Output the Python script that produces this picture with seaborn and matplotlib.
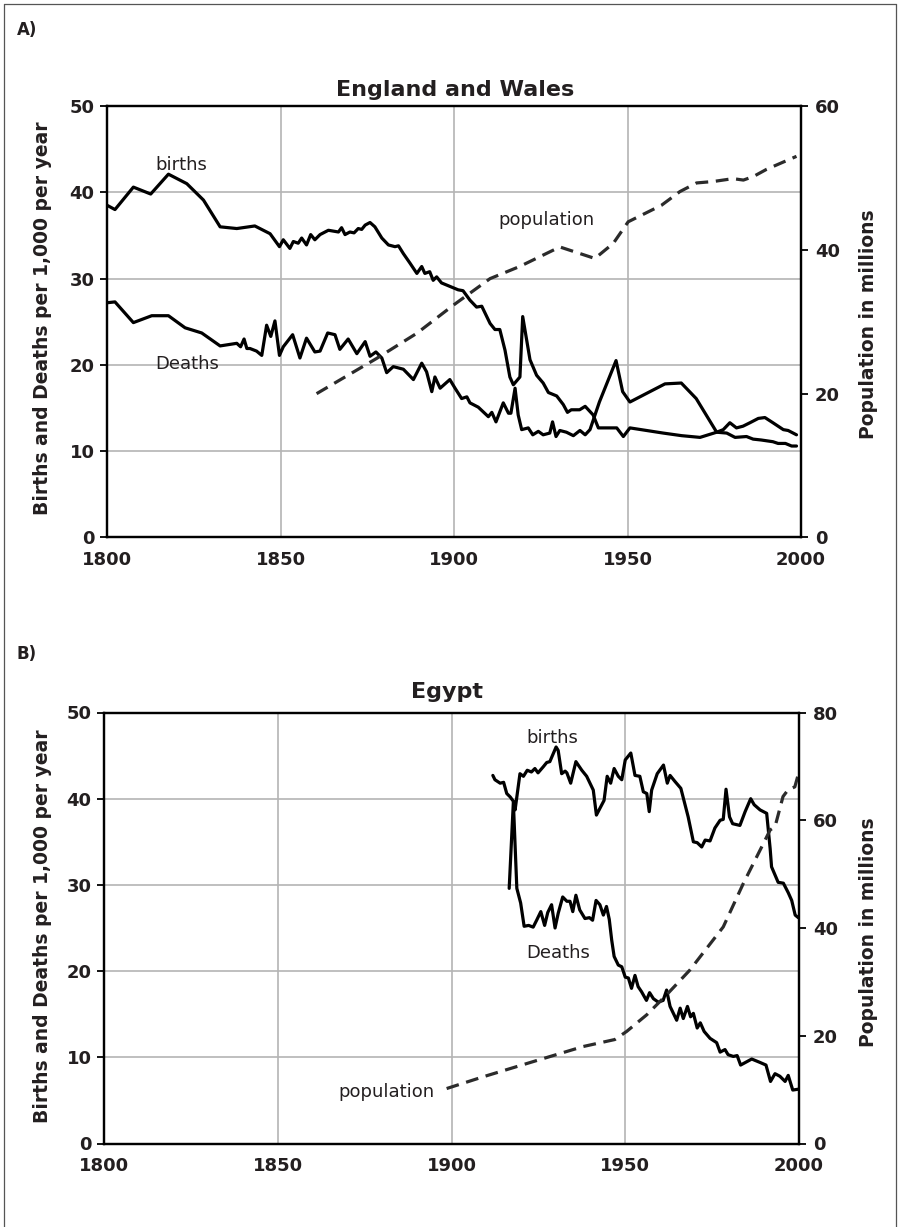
import matplotlib
matplotlib.use("Agg")
import matplotlib.pyplot as plt
import seaborn as sns
from matplotlib.lines import Line2D

# ---------------- data ----------------
# Panel A: England and Wales (rates per 1,000 per year)
ew_birth_years = [1800, 1802.3, 1807.6, 1812.6, 1817.7, 1823, 1827.8, 1832.6, 1837.4, 1842.6,
                  1847, 1849.7, 1850.8, 1852.7, 1853.7, 1855.1, 1856.1, 1857.5, 1858.7, 1859.9,
                  1861.4, 1863.8, 1866.7, 1867.6, 1868.6, 1870, 1871.2, 1872.4, 1873.4, 1874.4,
                  1875.8, 1877.2, 1879.2, 1881.1, 1883, 1884, 1885.4, 1887.3, 1889.3, 1890.7,
                  1891.6, 1893, 1894, 1895, 1896.4, 1898.8, 1901.2, 1902.6, 1904.6, 1906.5,
                  1908, 1910.4, 1911.8, 1913.2, 1914.7, 1916.1, 1917.1, 1919, 1919.8, 1921.9,
                  1923.8, 1925.7, 1927.2, 1929.6, 1931.5, 1932.7, 1933.8, 1936.2, 1937.8, 1940.1,
                  1941.6, 1946.9, 1948.8, 1950.7, 1960.3, 1965.6, 1970.9, 1975.7, 1978.6, 1981,
                  1984.3, 1986.2, 1988.5, 1991.9, 1993.4, 1995.5, 1997.3, 1998.7]
ew_births = [38.5, 38.0, 40.6, 39.8, 42.1, 41.0, 39.1, 36.0, 35.8, 36.1,
             35.2, 33.7, 34.5, 33.5, 34.3, 34.1, 34.7, 33.9, 35.1, 34.5,
             35.1, 35.6, 35.4, 35.9, 35.1, 35.4, 35.3, 35.8, 35.7, 36.2,
             36.5, 36.0, 34.7, 33.9, 33.7, 33.8, 32.9, 31.8, 30.6, 31.4,
             30.6, 30.8, 29.8, 30.2, 29.5, 29.1, 28.7, 28.6, 27.5, 26.7,
             26.8, 24.8, 24.1, 24.1, 21.7, 18.6, 17.7, 18.6, 25.6, 20.6,
             18.8, 17.9, 16.8, 16.4, 15.4, 14.5, 14.8, 14.8, 15.2, 14.2,
             12.7, 12.7, 11.7, 12.7, 12.1, 11.8, 11.6, 12.2, 12.1, 11.6,
             11.7, 11.4, 11.3, 11.1, 10.9, 10.9, 10.6, 10.6]

ew_death_years = [1800, 1802.3, 1807.6, 1812.9, 1817.7, 1822.5, 1827.3, 1832.6, 1837.4, 1838.5,
                  1839.5, 1840.3, 1841.2, 1843.1, 1844.6, 1846, 1847.2, 1848.4, 1849.7, 1850.8,
                  1853.5, 1855.6, 1857.5, 1859.9, 1861.4, 1863.6, 1865.7, 1867.1, 1869.5, 1872,
                  1874.4, 1875.8, 1877.5, 1879.2, 1880.6, 1882.5, 1885.4, 1888.3, 1890.7, 1892.1,
                  1893.6, 1894.5, 1896, 1898.8, 1900.3, 1902.2, 1903.7, 1904.6, 1907, 1909.9,
                  1910.9, 1912.1, 1914.2, 1915.7, 1916.4, 1917.6, 1918.5, 1919.5, 1921.4, 1922.7,
                  1924.3, 1925.7, 1927.6, 1928.4, 1929.4, 1930.5, 1932.4, 1934.4, 1936.3, 1937.8,
                  1939.2, 1941.9, 1946.7, 1948.6, 1950.7, 1955.5, 1960.8, 1965.5, 1969.8, 1975.7,
                  1977.6, 1979.5, 1981.4, 1983.3, 1985.3, 1987.7, 1989.6, 1991.9, 1994.9, 1996.3,
                  1998.7]
ew_deaths = [27.2, 27.3, 24.9, 25.7, 25.7, 24.3, 23.7, 22.2, 22.5, 22.1,
             23.0, 21.9, 21.9, 21.6, 21.1, 24.6, 23.3, 25.1, 21.1, 22.1,
             23.5, 20.8, 23.1, 21.5, 21.6, 23.7, 23.5, 21.8, 23.0, 21.3,
             22.7, 21.0, 21.5, 20.8, 19.1, 19.8, 19.5, 18.3, 20.2, 19.2,
             16.9, 18.6, 17.3, 18.3, 17.3, 16.1, 16.3, 15.6, 15.1, 14.0,
             14.5, 13.4, 15.6, 14.4, 14.4, 17.3, 14.2, 12.5, 12.7, 11.9,
             12.3, 11.9, 12.1, 13.4, 11.7, 12.4, 12.2, 11.8, 12.4, 11.9,
             12.5, 15.7, 20.5, 16.9, 15.7, 16.7, 17.8, 17.9, 16.1, 12.2,
             12.5, 13.3, 12.7, 12.9, 13.3, 13.8, 13.9, 13.3, 12.5, 12.4,
             11.9]

ew_pop_years = [1860.4, 1877.7, 1889.3, 1899.8, 1910.4, 1919, 1930.5, 1940.6, 1945.9, 1950.2,
                1959.8, 1965.1, 1969.9, 1974.7, 1980.4, 1983.4, 1986.3, 1990.1, 1998.7]
ew_pop = [20.0, 24.9, 28.4, 32.3, 36.0, 37.7, 40.4, 38.8, 40.9, 43.9,
          46.2, 48.1, 49.3, 49.5, 49.9, 49.7, 50.2, 51.2, 53.0]

# Panel B: Egypt
eg_birth_years = [1911.9, 1912.5, 1914, 1915, 1915.9, 1916.9, 1917.8, 1918.3, 1919.7, 1920.7,
                  1921.8, 1923, 1924, 1924.9, 1926.4, 1927.4, 1928.3, 1930.1, 1930.7, 1931.7,
                  1932.7, 1933.2, 1934.3, 1935.8, 1937.5, 1938.9, 1940.8, 1941.7, 1943.9, 1944.8,
                  1945.8, 1946.8, 1948, 1949, 1950, 1951.6, 1952.8, 1954.2, 1955.2, 1956.2,
                  1956.9, 1957.6, 1959.2, 1961, 1962.1, 1962.9, 1964.3, 1966, 1968.1, 1969.6,
                  1970.7, 1972, 1973, 1974.4, 1975.8, 1977.3, 1978.2, 1979, 1980, 1980.9,
                  1983, 1984.5, 1986.1, 1987.1, 1988.8, 1990.7, 1991.7, 1992.1, 1994, 1995.5,
                  1996.9, 1997.9, 1998.9, 1999.8]
eg_births = [42.7, 42.2, 41.8, 41.9, 40.6, 40.2, 39.7, 38.7, 42.9, 42.6,
             43.3, 43.1, 43.5, 43.0, 43.7, 44.2, 44.3, 46.0, 45.6, 42.9,
             43.2, 43.0, 41.8, 44.3, 43.3, 42.6, 41.0, 38.1, 39.8, 42.6,
             41.8, 43.5, 42.6, 42.2, 44.5, 45.3, 42.7, 42.6, 40.8, 40.6,
             38.5, 41.0, 42.9, 43.9, 41.8, 42.7, 42.0, 41.2, 37.9, 35.0,
             34.9, 34.4, 35.2, 35.1, 36.6, 37.5, 37.6, 41.1, 37.9, 37.1,
             36.9, 38.5, 40.0, 39.3, 38.7, 38.3, 34.2, 32.1, 30.3, 30.2,
             29.1, 28.2, 26.5, 26.2]

eg_death_years = [1916.6, 1917.8, 1918.8, 1919.9, 1920.9, 1922.2, 1923.5, 1924.5, 1925.7, 1926.8,
                  1927.7, 1928.8, 1929.8, 1930.7, 1932, 1933.2, 1934.1, 1934.9, 1935.8, 1936.9,
                  1938.4, 1939.7, 1940.6, 1941.6, 1942.7, 1943.7, 1944.6, 1945.4, 1946.1, 1946.8,
                  1948, 1949, 1950, 1950.9, 1951.8, 1952.8, 1953.7, 1954.7, 1956.1, 1957,
                  1958.1, 1959.5, 1960.9, 1961.9, 1962.9, 1964.8, 1965.8, 1966.7, 1967.9, 1968.8,
                  1969.6, 1970.7, 1971.6, 1972.7, 1974.4, 1976.3, 1977.3, 1978.7, 1979.6, 1981.1,
                  1982.2, 1983.2, 1986.4, 1988.8, 1990.5, 1991.8, 1993.1, 1994.5, 1996, 1996.9,
                  1998.2, 1999.8]
eg_deaths = [29.6, 39.6, 29.6, 27.9, 25.2, 25.3, 25.1, 25.9, 26.9, 25.3,
             26.8, 27.7, 25.0, 26.7, 28.6, 28.1, 28.1, 26.9, 28.8, 27.1,
             26.1, 26.2, 25.9, 28.2, 27.7, 26.5, 27.5, 26.0, 23.6, 21.7,
             20.7, 20.5, 19.3, 19.2, 18.0, 19.5, 18.2, 17.6, 16.6, 17.5,
             16.8, 16.4, 16.6, 17.8, 15.9, 14.3, 15.7, 14.5, 15.9, 14.7,
             15.1, 13.4, 14.0, 13.0, 12.2, 11.7, 10.6, 10.9, 10.3, 10.1,
             10.2, 9.1, 9.8, 9.4, 9.1, 7.2, 8.1, 7.8, 7.2, 7.9,
             6.2, 6.3]

eg_pop_years = [1898.6, 1909.2, 1923.5, 1937.9, 1947, 1950.4, 1956.2, 1961.9, 1968.6, 1978.2,
                1984, 1989.3, 1991.7, 1993.1, 1995.4, 1996.8, 1998.8, 2000]
eg_pop = [10.2, 12.4, 15.2, 18.0, 19.3, 20.8, 23.9, 27.6, 32.2, 40.2,
          48.3, 55.1, 58.2, 58.8, 64.4, 65.6, 66.2, 69.0]

year_ticks = [1800, 1850, 1900, 1950, 2000]
rate_ticks = [0, 10, 20, 30, 40, 50]
pop_ticks_a = [0, 20, 40, 60]
pop_ticks_b = [0, 20, 40, 60, 80]

# ---------------- style ----------------
sns.set_style("white")
plt.rcParams["font.family"] = ["DejaVu Sans"]
TXT = "#231f20"
W, H = 899, 1227

fig = plt.figure(figsize=(W / 100, H / 100), dpi=100)


def fx(px):
    return px / W


def fy(py):
    return 1 - py / H


def panel(rect, b_years, births, d_years, deaths, p_years, pop, pop_ticks):
    ax = fig.add_axes(rect)
    sns.lineplot(x=b_years, y=births, ax=ax, color="black", lw=2.3,
                 estimator=None, sort=False)
    sns.lineplot(x=d_years, y=deaths, ax=ax, color="black", lw=2.3,
                 estimator=None, sort=False)
    ax.set_xlim(1800, 2000)
    ax.set_ylim(0, 50)
    ax.set_xticks(year_ticks)
    ax.set_yticks(rate_ticks)
    ax.grid(True, color="#b4b4b4", lw=1.2)
    ax.set_axisbelow(True)
    ax.set_xlabel("")
    ax.set_ylabel("")
    for s in ax.spines.values():
        s.set_visible(True)
        s.set_color("black")
        s.set_linewidth(1.6)
    ax.tick_params(axis="x", direction="out", length=4, width=1.3, pad=6,
                   labelsize=13, colors="black", labelcolor=TXT)
    ax.tick_params(axis="y", direction="out", length=5, width=1.3, pad=4,
                   labelsize=13, colors="black", labelcolor=TXT)

    ax2 = ax.twinx()
    sns.lineplot(x=p_years, y=pop, ax=ax2, color="#2b2b2b", lw=2.3,
                 linestyle=(0, (4, 2.4)), estimator=None, sort=False)
    ax2.set_ylim(0, pop_ticks[-1])
    ax2.set_yticks(pop_ticks)
    ax2.set_xlim(1800, 2000)
    ax2.grid(False)
    ax2.set_ylabel("")
    for s in ax2.spines.values():
        s.set_visible(True)
        s.set_color("black")
        s.set_linewidth(1.6)
    ax2.tick_params(axis="y", direction="out", length=5, width=1.3, pad=5,
                    labelsize=13, colors="black", labelcolor=TXT)
    for lbl in ax.get_xticklabels() + ax.get_yticklabels() + ax2.get_yticklabels():
        lbl.set_fontweight("bold")
    return ax, ax2


# Panel A
axA, axA2 = panel([fx(107), fy(537.5), fx(801) - fx(107), fy(106) - fy(537.5)],
                  ew_birth_years, ew_births, ew_death_years, ew_deaths,
                  ew_pop_years, ew_pop, pop_ticks_a)
# Panel B
axB, axB2 = panel([fx(104), fy(1143.5), fx(799) - fx(104), fy(712.5) - fy(1143.5)],
                  eg_birth_years, eg_births, eg_death_years, eg_deaths,
                  eg_pop_years, eg_pop, pop_ticks_b)

# in-plot labels
lab = dict(fontsize=13, color=TXT, va="baseline")
axA.text(1821.5, 42.6, "births", ha="center", **lab)
axA.text(1823.2, 19.5, "Deaths", ha="center", **lab)
axA.text(1926.7, 36.2, "population", ha="center", **lab)
axB.text(1929.1, 46.5, "births", ha="center", **lab)
axB.text(1930.7, 21.55, "Deaths", ha="center", **lab)
axB.text(1895.0, 5.43, "population", ha="right", **lab)

# titles and panel letters
fig.text(fx(455), fy(96), "England and Wales", ha="center", va="baseline",
         fontsize=16, fontweight="bold", color=TXT)
fig.text(fx(447), fy(698), "Egypt", ha="center", va="baseline",
         fontsize=16, fontweight="bold", color=TXT)
fig.text(fx(17), fy(35), "A)", ha="left", va="baseline", fontsize=12,
         fontweight="bold", color=TXT)
fig.text(fx(17), fy(659), "B)", ha="left", va="baseline", fontsize=12,
         fontweight="bold", color=TXT)

# axis titles
ylab = "Births and Deaths per 1,000 per year"
plab = "Population in millions"
for cy_left, cy_right in [(318, 324), (926, 932)]:
    fig.text(fx(43), fy(cy_left), ylab, rotation=90, ha="center", va="center",
             fontsize=13.5, fontweight="bold", color=TXT)
    fig.text(fx(869), fy(cy_right), plab, rotation=90, ha="center", va="center",
             fontsize=13.5, fontweight="bold", color=TXT)

# outer frame (left, top, right)
for xs, ys in [([fx(4), fx(4)], [0, fy(4)]),
               ([fx(4), fx(896)], [fy(4), fy(4)]),
               ([fx(896), fx(896)], [fy(4), 0])]:
    fig.add_artist(Line2D(xs, ys, transform=fig.transFigure, color="#555555", lw=0.9))

fig.savefig("out.png", dpi=100)
